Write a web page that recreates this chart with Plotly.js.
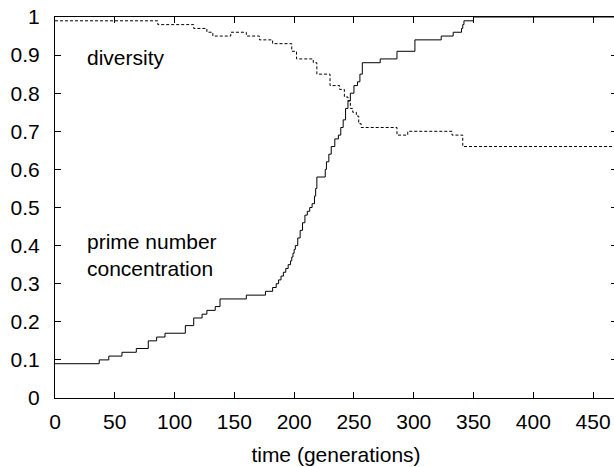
<!DOCTYPE html>
<html>
<head>
<meta charset="utf-8">
<script src="https://cdn.plot.ly/plotly-3.0.1.min.js"></script>
<style>
html,body{margin:0;padding:0;overflow:hidden;background:#fff;}
#chart{width:618px;height:467px;}
</style>
</head>
<body>
<div id="chart"></div>
<script>
// time (generations) and prime number concentration (step data)
const primeTime = [0,37,45,56,68,78,85,92,109,116,123,127,134,138,160,176,182,185,187,189,191,193,195,197,198,199,200,201,203,205,207,209,211,213,215,217,218,219,226,227,229,231,234,237,239,241,243,245,247,250,253,255,257,272,286,301,323,333,340,341,342,350,470];
const primeValue = [0.09,0.10,0.11,0.12,0.13,0.15,0.16,0.17,0.19,0.21,0.22,0.23,0.24,0.26,0.27,0.28,0.29,0.30,0.31,0.32,0.33,0.34,0.35,0.36,0.37,0.38,0.39,0.40,0.42,0.44,0.46,0.48,0.49,0.50,0.51,0.53,0.55,0.58,0.60,0.62,0.64,0.66,0.68,0.69,0.71,0.73,0.76,0.78,0.80,0.82,0.83,0.85,0.88,0.89,0.91,0.94,0.95,0.96,0.97,0.98,0.99,1.0,1.0];

// diversity (step data)
const divTime = [0,86,116,127,132,147,160,171,182,198,202,216,219,230,238,242,245,247,249,252,254,256,286,295,332,341,470];
const divValue = [0.99,0.98,0.97,0.96,0.95,0.96,0.95,0.94,0.93,0.91,0.89,0.88,0.85,0.82,0.81,0.79,0.78,0.76,0.75,0.74,0.72,0.71,0.69,0.70,0.69,0.66,0.66];

const xTicks = [0,50,100,150,200,250,300,350,400,450];
const yTicks = [0,0.1,0.2,0.3,0.4,0.5,0.6,0.7,0.8,0.9,1];
const yTickText = ["0","0.1","0.2","0.3","0.4","0.5","0.6","0.7","0.8","0.9","1"];
const xTitle = "time (generations)";
const labelDiversity = "diversity";
const labelPrime1 = "prime number";
const labelPrime2 = "concentration";

const font = {family: "Liberation Sans, Arial, Helvetica, sans-serif", size: 21, color: "#000"};

const traces = [
  {x: primeTime, y: primeValue, type: "scatter", mode: "lines",
   line: {shape: "hv", color: "#000", width: 1}, hoverinfo: "skip"},
  {x: divTime, y: divValue, type: "scatter", mode: "lines",
   line: {shape: "hv", color: "#000", width: 1, dash: "3px,2px"}, hoverinfo: "skip"}
];

const axisCommon = {
  showline: true, linecolor: "#000", linewidth: 1, mirror: "ticks",
  ticks: "inside", ticklen: 6, tickwidth: 1, tickcolor: "#000",
  showgrid: false, zeroline: false, tickfont: font
};

const layout = {
  width: 618, height: 467,
  margin: {l: 55, r: 1, t: 17, b: 69, pad: 0},
  paper_bgcolor: "#fff", plot_bgcolor: "#fff",
  showlegend: false,
  font: font,
  xaxis: Object.assign({}, axisCommon, {
    range: [0, 470], tickvals: xTicks, ticklabelstandoff: 5,
    title: {text: xTitle, font: font, standoff: 15}
  }),
  yaxis: Object.assign({}, axisCommon, {
    range: [0, 1], tickvals: yTicks, ticktext: yTickText, ticklabelstandoff: 10
  }),
  annotations: [
    {x: 25, y: 0.894, xref: "x", yref: "y", text: labelDiversity, showarrow: false, xanchor: "left", yanchor: "middle", font: font},
    {x: 25, y: 0.412, xref: "x", yref: "y", text: labelPrime1, showarrow: false, xanchor: "left", yanchor: "middle", font: font},
    {x: 25, y: 0.339, xref: "x", yref: "y", text: labelPrime2, showarrow: false, xanchor: "left", yanchor: "middle", font: font}
  ]
};

Plotly.newPlot("chart", traces, layout, {displayModeBar: false, staticPlot: true});
</script>
</body>
</html>
